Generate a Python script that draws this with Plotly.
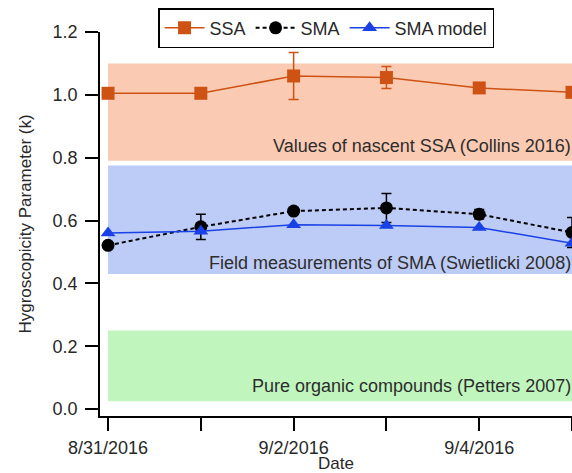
import plotly.graph_objects as go

# data
dates = ['2016-08-31', '2016-09-01', '2016-09-02', '2016-09-03', '2016-09-04', '2016-09-05']

ssa = [1.005, 1.005, 1.060, 1.055, 1.022, 1.008]
ssa_err = [0.0, 0.012, 0.075, 0.035, 0.010, 0.010]

sma = [0.521, 0.580, 0.630, 0.640, 0.620, 0.562]
sma_err = [0.0, 0.040, 0.010, 0.046, 0.015, 0.048]

sma_model = [0.560, 0.566, 0.587, 0.584, 0.578, 0.528]

# reference ranges (low, high) and their labels
band_labels = [
  'Values of nascent SSA (Collins 2016)',
  'Field measurements of SMA (Swietlicki 2008)',
  'Pure organic compounds (Petters 2007)',
]
band_low = [0.79, 0.43, 0.025]
band_high = [1.10, 0.775, 0.25]
band_text_y = [0.837, 0.466, 0.073]
band_colors = ['rgb(250,203,178)', 'rgb(189,204,246)', 'rgb(192,246,190)']

tick_dates = dates
tick_text = ['8/31/2016', '', '9/2/2016', '', '9/4/2016', '']

FONT = 'Liberation Sans, Arial, sans-serif'
ORANGE = 'rgb(205,82,20)'
BLUE = 'rgb(25,65,230)'

x_start = '2016-08-30 21:55'
x_end = '2016-09-05 00:00'

fig = go.Figure()

fig.add_trace(go.Scatter(
  x=dates, y=ssa, name='SSA', mode='lines+markers',
  line=dict(color=ORANGE, width=1.5),
  marker=dict(symbol='square', size=13, color=ORANGE),
  error_y=dict(type='data', array=ssa_err, color=ORANGE, thickness=1.5, width=5),
))
fig.add_trace(go.Scatter(
  x=dates, y=sma, name='SMA', mode='lines+markers',
  line=dict(color='black', width=2, dash='4px,3px'),
  marker=dict(symbol='circle', size=13, color='black'),
  error_y=dict(type='data', array=sma_err, color='black', thickness=1.5, width=5),
))
fig.add_trace(go.Scatter(
  x=dates, y=sma_model, name='SMA model', mode='lines+markers',
  line=dict(color=BLUE, width=1.5),
  marker=dict(symbol='triangle-up', size=13, color=BLUE),
))

# shaded reference ranges with labels
for label, lo, hi, ty, col in zip(band_labels, band_low, band_high, band_text_y, band_colors):
  fig.add_shape(type='rect', xref='x', yref='y', x0=dates[0], x1=x_end,
                y0=lo, y1=hi, fillcolor=col, line_width=0, layer='below')
  fig.add_annotation(x=1, xref='paper', y=ty, yref='y', text=label,
                     showarrow=False, xanchor='right', yanchor='middle', xshift=1,
                     font=dict(size=18, color='rgb(45,45,45)', family=FONT))

fig.update_layout(
  width=572, height=473,
  margin=dict(l=100, r=0, t=32, b=57),
  plot_bgcolor='white', paper_bgcolor='white',
  font=dict(family=FONT, size=18, color='rgb(40,40,40)'),
  showlegend=True,
  legend=dict(
    orientation='h', x=0.123, y=1.01, xanchor='left', yanchor='middle',
    bordercolor='black', borderwidth=1.5, bgcolor='white',
    font=dict(size=18, family=FONT), itemwidth=40,
  ),
)

fig.update_xaxes(
  range=[x_start, x_end], tickvals=tick_dates, ticktext=tick_text,
  showline=True, linecolor='black', linewidth=1.5, showgrid=False,
  ticks='outside', ticklen=13, tickwidth=1.5, tickcolor='black',
  tickfont=dict(size=18), ticklabelstandoff=2,
  title=dict(text='Date', font=dict(size=17), standoff=0),
  zeroline=False,
)
fig.update_yaxes(
  range=[-0.022, 1.2], tickvals=[0, 0.2, 0.4, 0.6, 0.8, 1.0, 1.2],
  tickformat='.1f',
  showline=True, linecolor='black', linewidth=1.5, showgrid=False,
  ticks='outside', ticklen=13, tickwidth=1.5, tickcolor='black',
  tickfont=dict(size=18), ticklabelstandoff=4,
  title=dict(text='Hygroscopicity Parameter (k)', font=dict(size=17), standoff=17),
  zeroline=False,
)

# drop the default 8px body margin so the figure fills the window
fig.write_html('out.html', config={'displayModeBar': False},
               post_script="document.body.style.margin='0';")
